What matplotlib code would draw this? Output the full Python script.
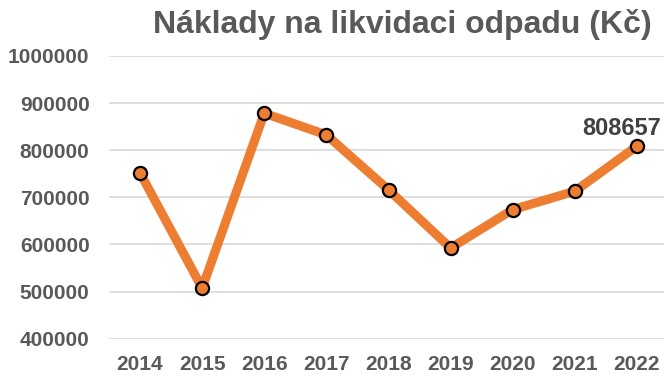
import matplotlib.pyplot as plt

# yearly costs of waste disposal (CZK)
years = ['2014', '2015', '2016', '2017', '2018', '2019', '2020', '2021', '2022']
costs = [752000, 507500, 878500, 832500, 716000, 592500, 674000, 713000, 808657]
yticks = [400000, 500000, 600000, 700000, 800000, 900000, 1000000]

plt.rcParams['font.family'] = ['Liberation Sans', 'DejaVu Sans']

fig = plt.figure(figsize=(6.64, 3.76), dpi=100)
ax = fig.add_axes([109/664, 1-338.7/376, (668-109)/664, (338.7-56)/376])

x = list(range(len(years)))
ax.plot(x, costs, color='#ED7D31', linewidth=6.5, solid_capstyle='round',
        marker='o', markersize=9.5, markerfacecolor='#ED7D31',
        markeredgecolor='black', markeredgewidth=1.6, zorder=3)

ax.annotate(f'{costs[-1]}', (x[-1], costs[-1]), xytext=(-11, 13),
            textcoords='offset points', ha='center', va='center',
            fontsize=17, fontweight='bold', color='#404040')

ax.set_ylim(400000, 1000000)
ax.set_xlim(-0.5, len(years) - 0.5)
ax.set_yticks(yticks)
ax.set_yticklabels([str(v) for v in yticks])
ax.set_xticks(x)
ax.set_xticklabels(years)
ax.grid(axis='y', color='#D9D9D9', linewidth=1.2)
ax.set_axisbelow(True)
for s in ax.spines.values():
    s.set_visible(False)
ax.tick_params(length=0, labelsize=15, labelcolor='#595959')
ax.tick_params(axis='y', pad=14)
ax.tick_params(axis='x', pad=12)
for lab in ax.get_xticklabels() + ax.get_yticklabels():
    lab.set_fontweight('bold')

fig.text(402/664, 1-25/376, 'Náklady na likvidaci odpadu (Kč)', ha='center',
         va='center', fontsize=23, fontweight='bold', color='#595959')

fig.savefig('out.png', dpi=100)
